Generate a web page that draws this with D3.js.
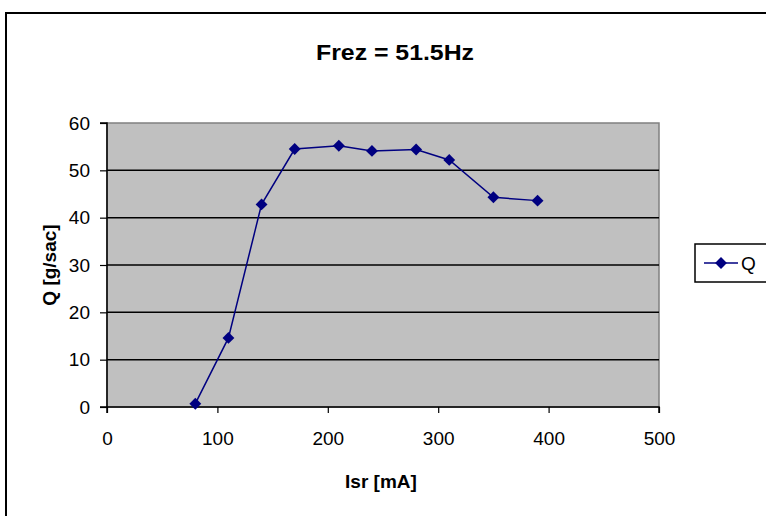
<!DOCTYPE html>
<html>
<head>
<meta charset="utf-8">
<script src="https://cdn.jsdelivr.net/npm/d3@7"></script>
<style>
  body { margin: 0; background: #fff; }
  text { font-family: "Liberation Sans", Arial, sans-serif; }
</style>
</head>
<body>
<svg id="chart" width="766" height="516"></svg>
<script>
// courant (mA) et débit (g/sac)
const isr = [80, 110, 140, 170, 210, 240, 280, 310, 350, 390];
const qValues = [0.7, 14.6, 42.8, 54.5, 55.2, 54.1, 54.4, 52.2, 44.3, 43.6];
const xTicks = [0, 100, 200, 300, 400, 500];
const yTicks = [0, 10, 20, 30, 40, 50, 60];
const seriesName = "Q";

const svg = d3.select("#chart");

// cadre du graphique
svg.append("rect")
  .attr("x", 6).attr("y", 13)
  .attr("width", 800).attr("height", 600)
  .attr("fill", "#fff").attr("stroke", "#000").attr("stroke-width", 2);

const plot = { left: 107, right: 659, top: 123, bottom: 407 };

const x = d3.scaleLinear().domain([0, 500]).range([plot.left, plot.right]);
const y = d3.scaleLinear().domain([0, 60]).range([plot.bottom, plot.top]);

// fond gris
svg.append("rect")
  .attr("x", plot.left).attr("y", plot.top)
  .attr("width", plot.right - plot.left).attr("height", plot.bottom - plot.top)
  .attr("fill", "#c0c0c0").attr("stroke", "#808080").attr("stroke-width", 1.5);

// lignes de grille
svg.append("g")
  .selectAll("line")
  .data(yTicks.filter(t => t > 0 && t < 60))
  .join("line")
  .attr("x1", plot.left).attr("x2", plot.right)
  .attr("y1", d => y(d)).attr("y2", d => y(d))
  .attr("stroke", "#000").attr("stroke-width", 1.5);

// axes
const xAxis = svg.append("g")
  .attr("transform", `translate(0,${plot.bottom})`)
  .call(d3.axisBottom(x).tickValues(xTicks).tickSize(6).tickPadding(19));
const yAxis = svg.append("g")
  .attr("transform", `translate(${plot.left},0)`)
  .call(d3.axisLeft(y).tickValues(yTicks).tickSize(7).tickPadding(10));

[xAxis, yAxis].forEach(g => {
  g.selectAll(".domain").attr("stroke", "#000").attr("stroke-width", 1.5);
  g.selectAll(".tick line").attr("stroke", "#000").attr("stroke-width", 1.2);
  g.selectAll(".tick text")
    .attr("font-size", 19)
    .attr("font-family", "Liberation Sans, Arial, sans-serif")
    .attr("fill", "#000");
});
xAxis.select(".domain").attr("d", `M${plot.left},6V0H${plot.right}V6`);
yAxis.select(".domain").attr("d", `M-7,${plot.top}H0V${plot.bottom}H-7`);

// courbe
const line = d3.line().x(d => x(d[0])).y(d => y(d[1]));
const pts = isr.map((v, i) => [v, qValues[i]]);

svg.append("path")
  .datum(pts)
  .attr("d", line)
  .attr("fill", "none")
  .attr("stroke", "#000080")
  .attr("stroke-width", 1.5);

const diamond = d3.symbol().type(d3.symbolDiamond2).size(90);
svg.append("g")
  .selectAll("path")
  .data(pts)
  .join("path")
  .attr("transform", d => `translate(${x(d[0])},${y(d[1])})`)
  .attr("d", diamond)
  .attr("fill", "#000080");

// titres
svg.append("text")
  .attr("x", 395).attr("y", 60)
  .attr("text-anchor", "middle")
  .attr("font-size", 22).attr("font-weight", "bold")
  .attr("textLength", 158).attr("lengthAdjust", "spacingAndGlyphs")
  .text("Frez = 51.5Hz");

svg.append("text")
  .attr("x", 381).attr("y", 488)
  .attr("text-anchor", "middle")
  .attr("font-size", 19).attr("font-weight", "bold")
  .text("Isr [mA]");

svg.append("text")
  .attr("transform", "translate(56,265) rotate(-90)")
  .attr("text-anchor", "middle")
  .attr("font-size", 19).attr("font-weight", "bold")
  .text("Q [g/sac]");

// légende
const legend = svg.append("g").attr("transform", "translate(695,244)");
legend.append("rect")
  .attr("width", 100).attr("height", 38)
  .attr("fill", "#fff").attr("stroke", "#000").attr("stroke-width", 1.5);
legend.append("line")
  .attr("x1", 9).attr("x2", 43).attr("y1", 19).attr("y2", 19)
  .attr("stroke", "#000080").attr("stroke-width", 1.5);
legend.append("path")
  .attr("transform", "translate(26,19)")
  .attr("d", diamond)
  .attr("fill", "#000080");
legend.append("text")
  .attr("x", 46).attr("y", 26)
  .attr("font-size", 19)
  .text(seriesName);
</script>
</body>
</html>
